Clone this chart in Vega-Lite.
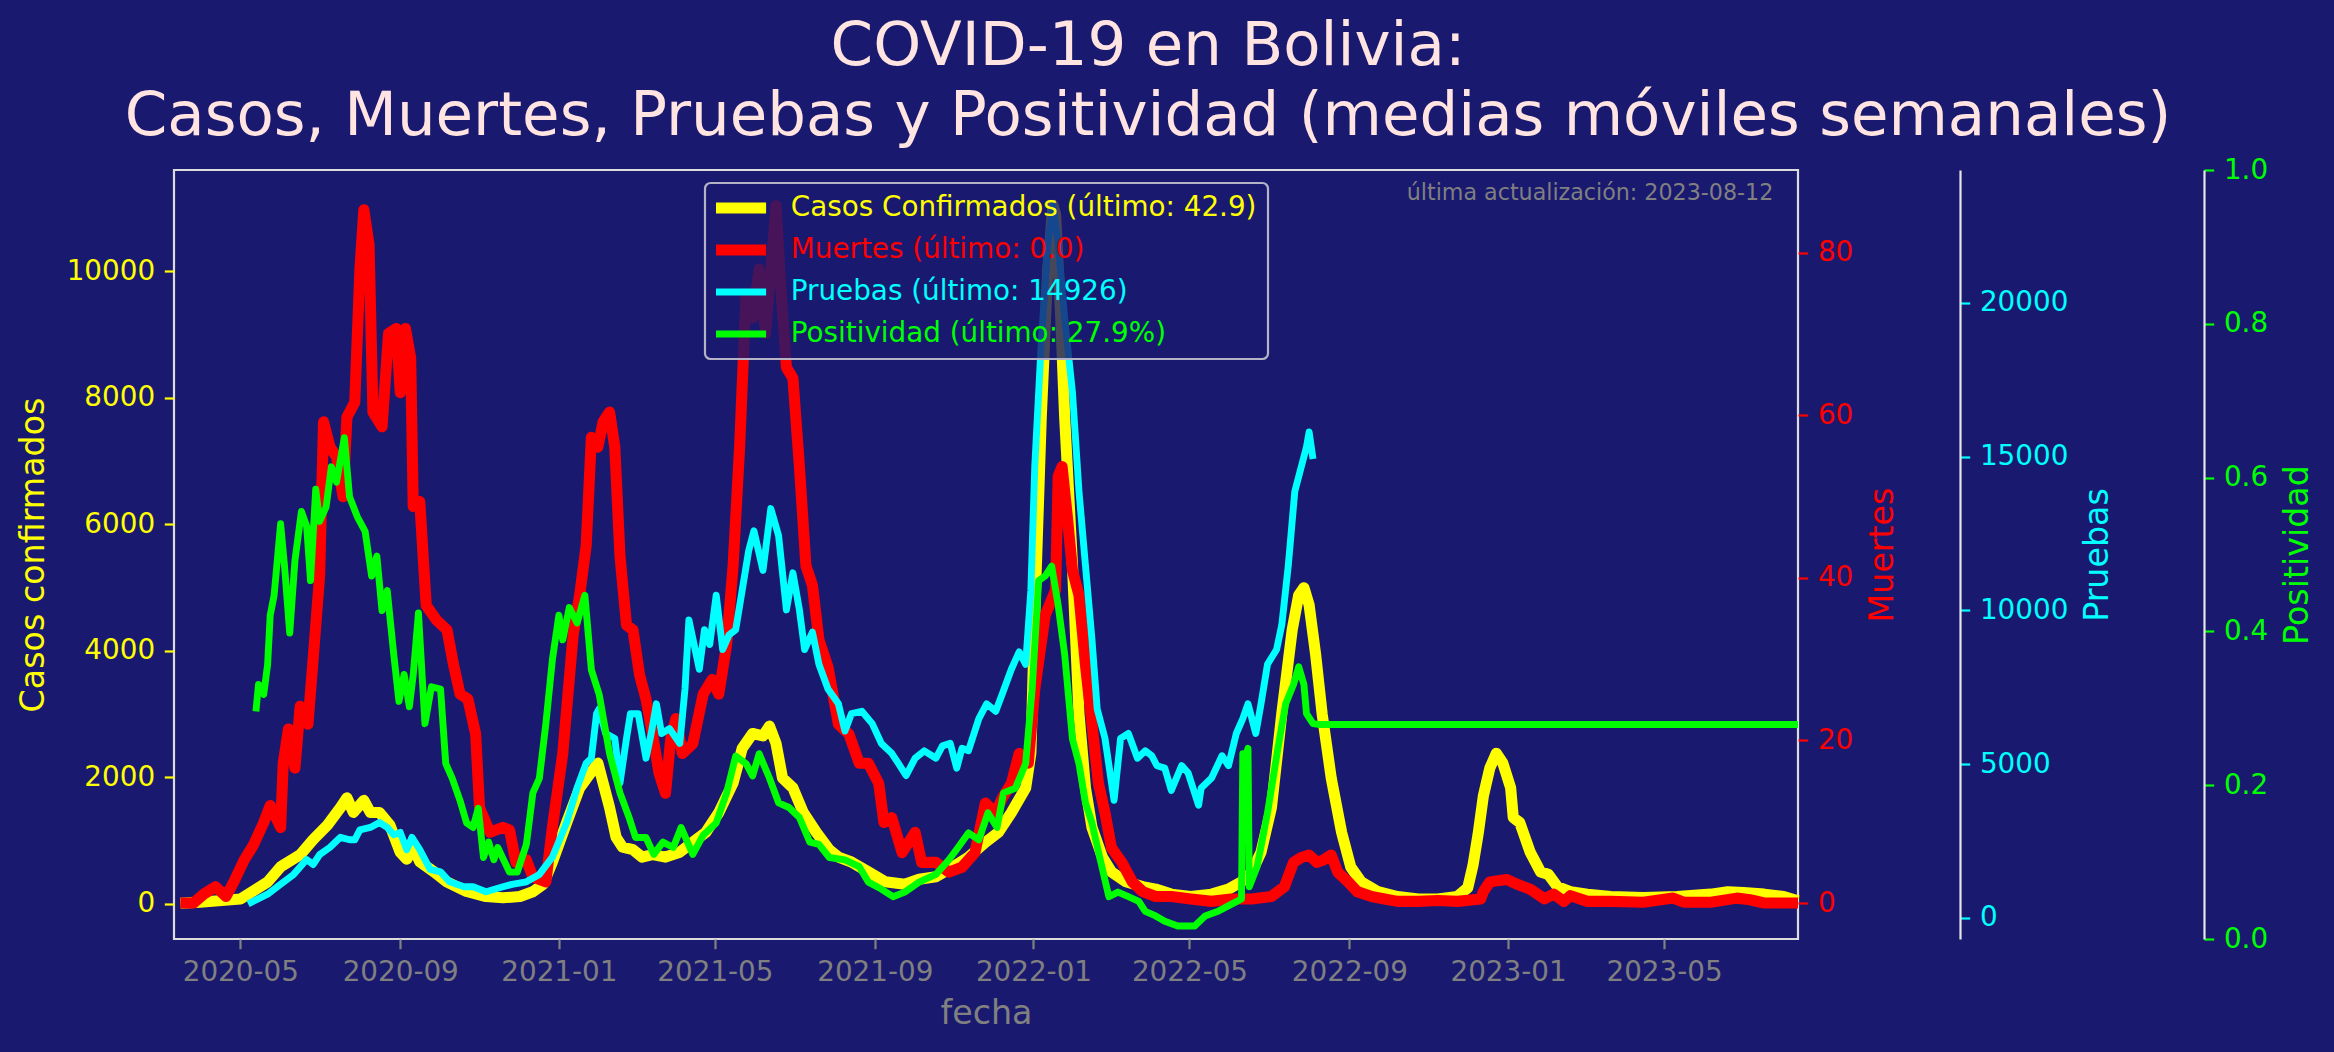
{
  "$schema": "https://vega.github.io/schema/vega-lite/v6.json",
  "width": 1624,
  "height": 769,
  "autosize": {"type": "none"},
  "padding": {"left": 174, "top": 170, "right": 536, "bottom": 113},
  "background": "#191970",
  "title": {
    "text": ["COVID-19 en Bolivia:", "Casos, Muertes, Pruebas y Positividad (medias móviles semanales)"],
    "font": "DejaVu Sans",
    "fontSize": 61,
    "fontWeight": "normal",
    "color": "#ffe4e1",
    "anchor": "middle",
    "frame": "group",
    "dx": 162,
    "lineHeight": 70,
    "offset": 8
  },
  "datasets": {
    "casos": [
      {"fecha": "2020-03-16", "v": 3}, {"fecha": "2020-03-31", "v": 20}, {"fecha": "2020-05-01", "v": 70}, {"fecha": "2020-05-22", "v": 340},
      {"fecha": "2020-06-01", "v": 580}, {"fecha": "2020-06-16", "v": 770}, {"fecha": "2020-06-26", "v": 1010}, {"fecha": "2020-07-07", "v": 1240},
      {"fecha": "2020-07-17", "v": 1515}, {"fecha": "2020-07-22", "v": 1670}, {"fecha": "2020-07-27", "v": 1440}, {"fecha": "2020-08-04", "v": 1630},
      {"fecha": "2020-08-09", "v": 1440}, {"fecha": "2020-08-16", "v": 1440}, {"fecha": "2020-08-24", "v": 1240}, {"fecha": "2020-09-01", "v": 810},
      {"fecha": "2020-09-06", "v": 700}, {"fecha": "2020-09-11", "v": 890}, {"fecha": "2020-09-16", "v": 660}, {"fecha": "2020-09-27", "v": 500},
      {"fecha": "2020-10-07", "v": 340}, {"fecha": "2020-10-22", "v": 190}, {"fecha": "2020-11-06", "v": 110}, {"fecha": "2020-11-19", "v": 90},
      {"fecha": "2020-12-02", "v": 110}, {"fecha": "2020-12-12", "v": 187}, {"fecha": "2020-12-20", "v": 305}, {"fecha": "2020-12-27", "v": 656},
      {"fecha": "2021-01-07", "v": 1281}, {"fecha": "2021-01-17", "v": 1828}, {"fecha": "2021-01-24", "v": 2024}, {"fecha": "2021-01-31", "v": 2219},
      {"fecha": "2021-02-04", "v": 1906}, {"fecha": "2021-02-09", "v": 1516}, {"fecha": "2021-02-14", "v": 1047}, {"fecha": "2021-02-19", "v": 890},
      {"fecha": "2021-02-27", "v": 851}, {"fecha": "2021-03-06", "v": 734}, {"fecha": "2021-03-14", "v": 773}, {"fecha": "2021-03-24", "v": 734},
      {"fecha": "2021-04-04", "v": 812}, {"fecha": "2021-04-14", "v": 968}, {"fecha": "2021-04-24", "v": 1125}, {"fecha": "2021-05-04", "v": 1437},
      {"fecha": "2021-05-15", "v": 1906}, {"fecha": "2021-05-22", "v": 2453}, {"fecha": "2021-05-30", "v": 2688}, {"fecha": "2021-06-07", "v": 2649},
      {"fecha": "2021-06-12", "v": 2805}, {"fecha": "2021-06-17", "v": 2532}, {"fecha": "2021-06-22", "v": 1984}, {"fecha": "2021-06-30", "v": 1828},
      {"fecha": "2021-07-08", "v": 1437}, {"fecha": "2021-07-18", "v": 1125}, {"fecha": "2021-07-28", "v": 850}, {"fecha": "2021-08-04", "v": 734},
      {"fecha": "2021-08-14", "v": 656}, {"fecha": "2021-08-27", "v": 500}, {"fecha": "2021-09-09", "v": 344}, {"fecha": "2021-09-24", "v": 305},
      {"fecha": "2021-10-05", "v": 383}, {"fecha": "2021-10-18", "v": 422}, {"fecha": "2021-10-31", "v": 578}, {"fecha": "2021-11-12", "v": 734},
      {"fecha": "2021-11-25", "v": 968}, {"fecha": "2021-12-05", "v": 1125}, {"fecha": "2021-12-15", "v": 1437}, {"fecha": "2021-12-26", "v": 1828},
      {"fecha": "2021-12-30", "v": 2375}, {"fecha": "2022-01-02", "v": 4563}, {"fecha": "2022-01-07", "v": 7690}, {"fecha": "2022-01-12", "v": 10034},
      {"fecha": "2022-01-16", "v": 11040}, {"fecha": "2022-01-18", "v": 10900}, {"fecha": "2022-01-22", "v": 9252}, {"fecha": "2022-01-25", "v": 7690},
      {"fecha": "2022-01-31", "v": 5345}, {"fecha": "2022-02-05", "v": 3001}, {"fecha": "2022-02-10", "v": 1828}, {"fecha": "2022-02-15", "v": 1203},
      {"fecha": "2022-02-23", "v": 734}, {"fecha": "2022-03-02", "v": 500}, {"fecha": "2022-03-13", "v": 344}, {"fecha": "2022-03-26", "v": 266},
      {"fecha": "2022-04-05", "v": 227}, {"fecha": "2022-04-17", "v": 148}, {"fecha": "2022-05-02", "v": 110}, {"fecha": "2022-05-18", "v": 148},
      {"fecha": "2022-05-31", "v": 227}, {"fecha": "2022-06-10", "v": 344}, {"fecha": "2022-06-18", "v": 500}, {"fecha": "2022-06-25", "v": 812},
      {"fecha": "2022-07-03", "v": 1515}, {"fecha": "2022-07-11", "v": 3001}, {"fecha": "2022-07-19", "v": 4329}, {"fecha": "2022-07-24", "v": 4876},
      {"fecha": "2022-07-28", "v": 4993}, {"fecha": "2022-08-01", "v": 4720}, {"fecha": "2022-08-06", "v": 3939}, {"fecha": "2022-08-11", "v": 3001},
      {"fecha": "2022-08-18", "v": 1985}, {"fecha": "2022-08-26", "v": 1125}, {"fecha": "2022-09-02", "v": 578}, {"fecha": "2022-09-10", "v": 344},
      {"fecha": "2022-09-23", "v": 187}, {"fecha": "2022-10-08", "v": 110}, {"fecha": "2022-10-24", "v": 70}, {"fecha": "2022-11-08", "v": 70},
      {"fecha": "2022-11-23", "v": 110}, {"fecha": "2022-12-01", "v": 250}, {"fecha": "2022-12-05", "v": 600}, {"fecha": "2022-12-09", "v": 1100},
      {"fecha": "2022-12-13", "v": 1700}, {"fecha": "2022-12-18", "v": 2141}, {"fecha": "2022-12-23", "v": 2375}, {"fecha": "2022-12-28", "v": 2219},
      {"fecha": "2023-01-03", "v": 1828}, {"fecha": "2023-01-05", "v": 1359}, {"fecha": "2023-01-10", "v": 1281}, {"fecha": "2023-01-18", "v": 812},
      {"fecha": "2023-01-26", "v": 500}, {"fecha": "2023-02-01", "v": 461}, {"fecha": "2023-02-08", "v": 266}, {"fecha": "2023-02-18", "v": 187},
      {"fecha": "2023-03-03", "v": 148}, {"fecha": "2023-03-21", "v": 110}, {"fecha": "2023-04-15", "v": 94}, {"fecha": "2023-05-11", "v": 110},
      {"fecha": "2023-06-06", "v": 148}, {"fecha": "2023-06-19", "v": 187}, {"fecha": "2023-07-01", "v": 172}, {"fecha": "2023-07-17", "v": 148},
      {"fecha": "2023-08-01", "v": 110}, {"fecha": "2023-08-12", "v": 43}
    ],
    "muertes": [
      {"fecha": "2020-03-16", "v": 0}, {"fecha": "2020-03-26", "v": 0}, {"fecha": "2020-04-03", "v": 1.1}, {"fecha": "2020-04-12", "v": 2},
      {"fecha": "2020-04-20", "v": 0.8}, {"fecha": "2020-04-26", "v": 2.6}, {"fecha": "2020-05-04", "v": 5.3}, {"fecha": "2020-05-11", "v": 7.1},
      {"fecha": "2020-05-19", "v": 9.9}, {"fecha": "2020-05-24", "v": 12}, {"fecha": "2020-06-01", "v": 9.3}, {"fecha": "2020-06-03", "v": 17.2},
      {"fecha": "2020-06-07", "v": 21.4}, {"fecha": "2020-06-12", "v": 16.6}, {"fecha": "2020-06-16", "v": 24.2}, {"fecha": "2020-06-22", "v": 22},
      {"fecha": "2020-06-26", "v": 30}, {"fecha": "2020-07-01", "v": 40.3}, {"fecha": "2020-07-04", "v": 59.2}, {"fecha": "2020-07-09", "v": 56.1},
      {"fecha": "2020-07-14", "v": 54.9}, {"fecha": "2020-07-19", "v": 50}, {"fecha": "2020-07-22", "v": 59.8}, {"fecha": "2020-07-28", "v": 61.6},
      {"fecha": "2020-08-01", "v": 78}, {"fecha": "2020-08-04", "v": 85.3}, {"fecha": "2020-08-08", "v": 81}, {"fecha": "2020-08-11", "v": 60.4},
      {"fecha": "2020-08-18", "v": 58.6}, {"fecha": "2020-08-23", "v": 70.1}, {"fecha": "2020-08-29", "v": 70.7}, {"fecha": "2020-09-01", "v": 62.8},
      {"fecha": "2020-09-05", "v": 70.7}, {"fecha": "2020-09-09", "v": 67.1}, {"fecha": "2020-09-11", "v": 48.8}, {"fecha": "2020-09-16", "v": 49.4},
      {"fecha": "2020-09-21", "v": 36.6}, {"fecha": "2020-09-29", "v": 34.8}, {"fecha": "2020-10-07", "v": 33.6}, {"fecha": "2020-10-12", "v": 29.3},
      {"fecha": "2020-10-17", "v": 25.7}, {"fecha": "2020-10-23", "v": 25.1}, {"fecha": "2020-10-29", "v": 20.8}, {"fecha": "2020-11-01", "v": 11.7},
      {"fecha": "2020-11-09", "v": 8.7}, {"fecha": "2020-11-19", "v": 9.3}, {"fecha": "2020-11-24", "v": 9.0}, {"fecha": "2020-11-29", "v": 5.0},
      {"fecha": "2020-12-07", "v": 5.3}, {"fecha": "2020-12-12", "v": 3.2}, {"fecha": "2020-12-22", "v": 2.6}, {"fecha": "2020-12-27", "v": 9.3},
      {"fecha": "2021-01-04", "v": 18.4}, {"fecha": "2021-01-12", "v": 33}, {"fecha": "2021-01-17", "v": 37.9}, {"fecha": "2021-01-22", "v": 44},
      {"fecha": "2021-01-26", "v": 57.3}, {"fecha": "2021-01-31", "v": 56.1}, {"fecha": "2021-02-04", "v": 59.2}, {"fecha": "2021-02-09", "v": 60.4},
      {"fecha": "2021-02-13", "v": 56.1}, {"fecha": "2021-02-17", "v": 42.7}, {"fecha": "2021-02-22", "v": 34.2}, {"fecha": "2021-02-27", "v": 33.6},
      {"fecha": "2021-03-04", "v": 28.1}, {"fecha": "2021-03-09", "v": 25.1}, {"fecha": "2021-03-14", "v": 20.8}, {"fecha": "2021-03-19", "v": 16},
      {"fecha": "2021-03-24", "v": 13.5}, {"fecha": "2021-03-28", "v": 20.2}, {"fecha": "2021-04-01", "v": 22.7}, {"fecha": "2021-04-06", "v": 18.4},
      {"fecha": "2021-04-14", "v": 19.6}, {"fecha": "2021-04-22", "v": 25.7}, {"fecha": "2021-04-29", "v": 27.5}, {"fecha": "2021-05-04", "v": 25.7},
      {"fecha": "2021-05-10", "v": 31.8}, {"fecha": "2021-05-15", "v": 41.5}, {"fecha": "2021-05-20", "v": 56.1}, {"fecha": "2021-05-25", "v": 75},
      {"fecha": "2021-05-30", "v": 72}, {"fecha": "2021-06-04", "v": 78}, {"fecha": "2021-06-09", "v": 70.1}, {"fecha": "2021-06-13", "v": 78},
      {"fecha": "2021-06-17", "v": 85.8}, {"fecha": "2021-06-21", "v": 75}, {"fecha": "2021-06-25", "v": 65.9}, {"fecha": "2021-06-30", "v": 64.6},
      {"fecha": "2021-07-05", "v": 53.7}, {"fecha": "2021-07-10", "v": 41.5}, {"fecha": "2021-07-15", "v": 39.1}, {"fecha": "2021-07-20", "v": 32.4},
      {"fecha": "2021-07-27", "v": 29}, {"fecha": "2021-08-04", "v": 22}, {"fecha": "2021-08-12", "v": 20.8}, {"fecha": "2021-08-20", "v": 17.2},
      {"fecha": "2021-08-27", "v": 17.2}, {"fecha": "2021-09-04", "v": 14.7}, {"fecha": "2021-09-08", "v": 9.9}, {"fecha": "2021-09-14", "v": 10.5},
      {"fecha": "2021-09-22", "v": 6.2}, {"fecha": "2021-10-02", "v": 8.7}, {"fecha": "2021-10-07", "v": 5.0}, {"fecha": "2021-10-18", "v": 5.0},
      {"fecha": "2021-10-28", "v": 3.8}, {"fecha": "2021-11-07", "v": 4.4}, {"fecha": "2021-11-17", "v": 6.2}, {"fecha": "2021-11-25", "v": 12.3},
      {"fecha": "2021-12-03", "v": 11.1}, {"fecha": "2021-12-08", "v": 12.9}, {"fecha": "2021-12-15", "v": 14.7}, {"fecha": "2021-12-21", "v": 18.4},
      {"fecha": "2021-12-28", "v": 17.2}, {"fecha": "2022-01-02", "v": 26.3}, {"fecha": "2022-01-10", "v": 35.4}, {"fecha": "2022-01-18", "v": 38.5},
      {"fecha": "2022-01-20", "v": 52.5}, {"fecha": "2022-01-23", "v": 53.7}, {"fecha": "2022-01-27", "v": 47.6}, {"fecha": "2022-01-31", "v": 40.9},
      {"fecha": "2022-02-05", "v": 37.9}, {"fecha": "2022-02-10", "v": 29.3}, {"fecha": "2022-02-15", "v": 22}, {"fecha": "2022-02-20", "v": 14.7},
      {"fecha": "2022-02-25", "v": 11.1}, {"fecha": "2022-03-02", "v": 6.8}, {"fecha": "2022-03-10", "v": 5}, {"fecha": "2022-03-18", "v": 2.6},
      {"fecha": "2022-03-26", "v": 1.4}, {"fecha": "2022-04-05", "v": 0.8}, {"fecha": "2022-04-17", "v": 0.8}, {"fecha": "2022-05-02", "v": 0.5},
      {"fecha": "2022-05-18", "v": 0.2}, {"fecha": "2022-06-02", "v": 0.5}, {"fecha": "2022-06-18", "v": 0.5}, {"fecha": "2022-07-03", "v": 0.8},
      {"fecha": "2022-07-13", "v": 2}, {"fecha": "2022-07-20", "v": 5}, {"fecha": "2022-07-26", "v": 5.6}, {"fecha": "2022-08-01", "v": 5.9},
      {"fecha": "2022-08-07", "v": 5}, {"fecha": "2022-08-12", "v": 5.3}, {"fecha": "2022-08-18", "v": 5.9}, {"fecha": "2022-08-23", "v": 3.8},
      {"fecha": "2022-08-31", "v": 2.6}, {"fecha": "2022-09-07", "v": 1.4}, {"fecha": "2022-09-18", "v": 0.8}, {"fecha": "2022-09-28", "v": 0.5},
      {"fecha": "2022-10-08", "v": 0.2}, {"fecha": "2022-10-24", "v": 0.2}, {"fecha": "2022-11-08", "v": 0.3}, {"fecha": "2022-11-23", "v": 0.2},
      {"fecha": "2022-12-11", "v": 0.5}, {"fecha": "2022-12-13", "v": 1.4}, {"fecha": "2022-12-18", "v": 2.6}, {"fecha": "2022-12-31", "v": 2.9},
      {"fecha": "2023-01-08", "v": 2.3}, {"fecha": "2023-01-18", "v": 1.7}, {"fecha": "2023-01-29", "v": 0.5}, {"fecha": "2023-02-05", "v": 1.1},
      {"fecha": "2023-02-13", "v": 0.2}, {"fecha": "2023-02-18", "v": 0.9}, {"fecha": "2023-03-03", "v": 0.2}, {"fecha": "2023-03-21", "v": 0.2},
      {"fecha": "2023-04-15", "v": 0.1}, {"fecha": "2023-05-08", "v": 0.6}, {"fecha": "2023-05-16", "v": 0.1}, {"fecha": "2023-06-06", "v": 0.1},
      {"fecha": "2023-06-26", "v": 0.6}, {"fecha": "2023-07-06", "v": 0.4}, {"fecha": "2023-07-17", "v": 0}, {"fecha": "2023-08-12", "v": 0}
    ],
    "pruebas": [
      {"fecha": "2020-05-07", "v": 460}, {"fecha": "2020-05-22", "v": 775}, {"fecha": "2020-06-01", "v": 1096}, {"fecha": "2020-06-11", "v": 1418},
      {"fecha": "2020-06-21", "v": 1900}, {"fecha": "2020-06-26", "v": 1740}, {"fecha": "2020-07-01", "v": 2061}, {"fecha": "2020-07-09", "v": 2302},
      {"fecha": "2020-07-17", "v": 2624}, {"fecha": "2020-07-24", "v": 2544}, {"fecha": "2020-07-28", "v": 2544}, {"fecha": "2020-08-01", "v": 2865},
      {"fecha": "2020-08-09", "v": 2945}, {"fecha": "2020-08-16", "v": 3106}, {"fecha": "2020-08-22", "v": 2945}, {"fecha": "2020-08-27", "v": 2704},
      {"fecha": "2020-09-01", "v": 2785}, {"fecha": "2020-09-06", "v": 2222}, {"fecha": "2020-09-10", "v": 2624}, {"fecha": "2020-09-16", "v": 2222},
      {"fecha": "2020-09-24", "v": 1579}, {"fecha": "2020-10-02", "v": 1498}, {"fecha": "2020-10-09", "v": 1177}, {"fecha": "2020-10-20", "v": 1016},
      {"fecha": "2020-10-27", "v": 1016}, {"fecha": "2020-11-06", "v": 855}, {"fecha": "2020-11-19", "v": 1016}, {"fecha": "2020-11-26", "v": 1096},
      {"fecha": "2020-12-07", "v": 1177}, {"fecha": "2020-12-17", "v": 1418}, {"fecha": "2020-12-27", "v": 1980}, {"fecha": "2021-01-07", "v": 3106},
      {"fecha": "2021-01-15", "v": 4231}, {"fecha": "2021-01-22", "v": 5035}, {"fecha": "2021-01-26", "v": 5196}, {"fecha": "2021-01-30", "v": 6643},
      {"fecha": "2021-02-01", "v": 6803}, {"fecha": "2021-02-06", "v": 6000}, {"fecha": "2021-02-13", "v": 5839}, {"fecha": "2021-02-17", "v": 4392},
      {"fecha": "2021-02-22", "v": 5839}, {"fecha": "2021-02-25", "v": 6643}, {"fecha": "2021-03-03", "v": 6643}, {"fecha": "2021-03-09", "v": 5196},
      {"fecha": "2021-03-13", "v": 6000}, {"fecha": "2021-03-17", "v": 6964}, {"fecha": "2021-03-21", "v": 6000}, {"fecha": "2021-03-27", "v": 6160},
      {"fecha": "2021-04-04", "v": 5678}, {"fecha": "2021-04-08", "v": 7446}, {"fecha": "2021-04-11", "v": 9696}, {"fecha": "2021-04-15", "v": 8893},
      {"fecha": "2021-04-19", "v": 8089}, {"fecha": "2021-04-23", "v": 9375}, {"fecha": "2021-04-27", "v": 8893}, {"fecha": "2021-05-02", "v": 10500},
      {"fecha": "2021-05-07", "v": 8732}, {"fecha": "2021-05-12", "v": 9214}, {"fecha": "2021-05-17", "v": 9375}, {"fecha": "2021-05-22", "v": 10661},
      {"fecha": "2021-05-27", "v": 11947}, {"fecha": "2021-05-31", "v": 12590}, {"fecha": "2021-06-07", "v": 11304}, {"fecha": "2021-06-13", "v": 13314},
      {"fecha": "2021-06-19", "v": 12429}, {"fecha": "2021-06-25", "v": 10018}, {"fecha": "2021-06-30", "v": 11224}, {"fecha": "2021-07-05", "v": 10018},
      {"fecha": "2021-07-09", "v": 8732}, {"fecha": "2021-07-15", "v": 9295}, {"fecha": "2021-07-20", "v": 8250}, {"fecha": "2021-07-27", "v": 7446},
      {"fecha": "2021-08-04", "v": 6964}, {"fecha": "2021-08-09", "v": 6080}, {"fecha": "2021-08-14", "v": 6643}, {"fecha": "2021-08-22", "v": 6723},
      {"fecha": "2021-08-30", "v": 6321}, {"fecha": "2021-09-06", "v": 5678}, {"fecha": "2021-09-14", "v": 5357}, {"fecha": "2021-09-19", "v": 5035},
      {"fecha": "2021-09-25", "v": 4633}, {"fecha": "2021-10-02", "v": 5196}, {"fecha": "2021-10-09", "v": 5437}, {"fecha": "2021-10-18", "v": 5196},
      {"fecha": "2021-10-23", "v": 5598}, {"fecha": "2021-10-29", "v": 5678}, {"fecha": "2021-11-03", "v": 4874}, {"fecha": "2021-11-07", "v": 5518},
      {"fecha": "2021-11-12", "v": 5437}, {"fecha": "2021-11-20", "v": 6482}, {"fecha": "2021-11-26", "v": 6964}, {"fecha": "2021-12-03", "v": 6723},
      {"fecha": "2021-12-08", "v": 7285}, {"fecha": "2021-12-15", "v": 8089}, {"fecha": "2021-12-21", "v": 8652}, {"fecha": "2021-12-26", "v": 8250},
      {"fecha": "2021-12-30", "v": 10661}, {"fecha": "2022-01-02", "v": 14680}, {"fecha": "2022-01-07", "v": 18699}, {"fecha": "2022-01-12", "v": 21914},
      {"fecha": "2022-01-16", "v": 23190}, {"fecha": "2022-01-20", "v": 21914}, {"fecha": "2022-01-25", "v": 19502}, {"fecha": "2022-01-31", "v": 17091},
      {"fecha": "2022-02-05", "v": 13876}, {"fecha": "2022-02-10", "v": 11465}, {"fecha": "2022-02-15", "v": 9054}, {"fecha": "2022-02-19", "v": 6803},
      {"fecha": "2022-02-25", "v": 5839}, {"fecha": "2022-03-04", "v": 3829}, {"fecha": "2022-03-09", "v": 5839}, {"fecha": "2022-03-15", "v": 6000},
      {"fecha": "2022-03-22", "v": 5196}, {"fecha": "2022-03-28", "v": 5437}, {"fecha": "2022-04-02", "v": 5277}, {"fecha": "2022-04-06", "v": 4950},
      {"fecha": "2022-04-12", "v": 4874}, {"fecha": "2022-04-17", "v": 4151}, {"fecha": "2022-04-25", "v": 4955}, {"fecha": "2022-04-30", "v": 4713},
      {"fecha": "2022-05-08", "v": 3668}, {"fecha": "2022-05-10", "v": 4231}, {"fecha": "2022-05-18", "v": 4553}, {"fecha": "2022-05-26", "v": 5277},
      {"fecha": "2022-05-31", "v": 4955}, {"fecha": "2022-06-06", "v": 6000}, {"fecha": "2022-06-11", "v": 6482}, {"fecha": "2022-06-15", "v": 6964},
      {"fecha": "2022-06-19", "v": 6321}, {"fecha": "2022-06-21", "v": 6000}, {"fecha": "2022-06-25", "v": 6964}, {"fecha": "2022-06-30", "v": 8250},
      {"fecha": "2022-07-07", "v": 8732}, {"fecha": "2022-07-11", "v": 9536}, {"fecha": "2022-07-16", "v": 11465}, {"fecha": "2022-07-21", "v": 13876},
      {"fecha": "2022-07-26", "v": 14680}, {"fecha": "2022-07-30", "v": 15323}, {"fecha": "2022-08-01", "v": 15805}, {"fecha": "2022-08-04", "v": 14926}
    ],
    "positividad": [
      {"fecha": "2020-05-13", "v": 0.296}, {"fecha": "2020-05-15", "v": 0.331}, {"fecha": "2020-05-19", "v": 0.318}, {"fecha": "2020-05-22", "v": 0.357},
      {"fecha": "2020-05-24", "v": 0.421}, {"fecha": "2020-05-27", "v": 0.447}, {"fecha": "2020-06-01", "v": 0.54}, {"fecha": "2020-06-04", "v": 0.485},
      {"fecha": "2020-06-08", "v": 0.398}, {"fecha": "2020-06-12", "v": 0.492}, {"fecha": "2020-06-17", "v": 0.556}, {"fecha": "2020-06-21", "v": 0.537},
      {"fecha": "2020-06-24", "v": 0.466}, {"fecha": "2020-06-28", "v": 0.585}, {"fecha": "2020-07-01", "v": 0.543}, {"fecha": "2020-07-06", "v": 0.562},
      {"fecha": "2020-07-10", "v": 0.614}, {"fecha": "2020-07-14", "v": 0.594}, {"fecha": "2020-07-20", "v": 0.652}, {"fecha": "2020-07-24", "v": 0.575},
      {"fecha": "2020-07-30", "v": 0.549}, {"fecha": "2020-08-05", "v": 0.53}, {"fecha": "2020-08-10", "v": 0.472}, {"fecha": "2020-08-14", "v": 0.498},
      {"fecha": "2020-08-18", "v": 0.427}, {"fecha": "2020-08-22", "v": 0.453}, {"fecha": "2020-08-27", "v": 0.37}, {"fecha": "2020-08-31", "v": 0.309},
      {"fecha": "2020-09-04", "v": 0.344}, {"fecha": "2020-09-08", "v": 0.302}, {"fecha": "2020-09-11", "v": 0.344}, {"fecha": "2020-09-15", "v": 0.424},
      {"fecha": "2020-09-20", "v": 0.28}, {"fecha": "2020-09-25", "v": 0.328}, {"fecha": "2020-10-02", "v": 0.325}, {"fecha": "2020-10-06", "v": 0.228},
      {"fecha": "2020-10-11", "v": 0.209}, {"fecha": "2020-10-17", "v": 0.18}, {"fecha": "2020-10-22", "v": 0.151}, {"fecha": "2020-10-27", "v": 0.145},
      {"fecha": "2020-10-31", "v": 0.17}, {"fecha": "2020-11-04", "v": 0.106}, {"fecha": "2020-11-08", "v": 0.126}, {"fecha": "2020-11-12", "v": 0.103},
      {"fecha": "2020-11-15", "v": 0.119}, {"fecha": "2020-11-24", "v": 0.087}, {"fecha": "2020-11-30", "v": 0.087}, {"fecha": "2020-12-07", "v": 0.123},
      {"fecha": "2020-12-12", "v": 0.19}, {"fecha": "2020-12-17", "v": 0.209}, {"fecha": "2020-12-22", "v": 0.28}, {"fecha": "2020-12-27", "v": 0.363},
      {"fecha": "2021-01-01", "v": 0.421}, {"fecha": "2021-01-04", "v": 0.389}, {"fecha": "2021-01-09", "v": 0.431}, {"fecha": "2021-01-15", "v": 0.411},
      {"fecha": "2021-01-21", "v": 0.447}, {"fecha": "2021-01-26", "v": 0.35}, {"fecha": "2021-02-01", "v": 0.318}, {"fecha": "2021-02-09", "v": 0.241},
      {"fecha": "2021-02-17", "v": 0.19}, {"fecha": "2021-02-24", "v": 0.158}, {"fecha": "2021-03-01", "v": 0.132}, {"fecha": "2021-03-09", "v": 0.132},
      {"fecha": "2021-03-15", "v": 0.11}, {"fecha": "2021-03-22", "v": 0.126}, {"fecha": "2021-03-30", "v": 0.119}, {"fecha": "2021-04-05", "v": 0.145},
      {"fecha": "2021-04-14", "v": 0.11}, {"fecha": "2021-04-22", "v": 0.135}, {"fecha": "2021-05-02", "v": 0.151}, {"fecha": "2021-05-10", "v": 0.19},
      {"fecha": "2021-05-17", "v": 0.238}, {"fecha": "2021-05-25", "v": 0.228}, {"fecha": "2021-05-30", "v": 0.212}, {"fecha": "2021-06-04", "v": 0.241},
      {"fecha": "2021-06-12", "v": 0.209}, {"fecha": "2021-06-19", "v": 0.177}, {"fecha": "2021-06-27", "v": 0.171}, {"fecha": "2021-07-05", "v": 0.158},
      {"fecha": "2021-07-13", "v": 0.126}, {"fecha": "2021-07-20", "v": 0.123}, {"fecha": "2021-07-28", "v": 0.106}, {"fecha": "2021-08-09", "v": 0.103},
      {"fecha": "2021-08-20", "v": 0.094}, {"fecha": "2021-08-27", "v": 0.074}, {"fecha": "2021-09-06", "v": 0.065}, {"fecha": "2021-09-15", "v": 0.055},
      {"fecha": "2021-09-24", "v": 0.061}, {"fecha": "2021-10-05", "v": 0.074}, {"fecha": "2021-10-18", "v": 0.084}, {"fecha": "2021-10-28", "v": 0.103},
      {"fecha": "2021-11-04", "v": 0.119}, {"fecha": "2021-11-12", "v": 0.138}, {"fecha": "2021-11-20", "v": 0.129}, {"fecha": "2021-11-27", "v": 0.164},
      {"fecha": "2021-12-04", "v": 0.145}, {"fecha": "2021-12-09", "v": 0.19}, {"fecha": "2021-12-18", "v": 0.196}, {"fecha": "2021-12-26", "v": 0.228},
      {"fecha": "2021-12-31", "v": 0.325}, {"fecha": "2022-01-05", "v": 0.466}, {"fecha": "2022-01-10", "v": 0.472}, {"fecha": "2022-01-15", "v": 0.485},
      {"fecha": "2022-01-20", "v": 0.434}, {"fecha": "2022-01-25", "v": 0.37}, {"fecha": "2022-01-31", "v": 0.26}, {"fecha": "2022-02-05", "v": 0.228},
      {"fecha": "2022-02-10", "v": 0.177}, {"fecha": "2022-02-15", "v": 0.151}, {"fecha": "2022-02-20", "v": 0.113}, {"fecha": "2022-02-28", "v": 0.055},
      {"fecha": "2022-03-07", "v": 0.061}, {"fecha": "2022-03-15", "v": 0.055}, {"fecha": "2022-03-23", "v": 0.049}, {"fecha": "2022-03-28", "v": 0.036},
      {"fecha": "2022-04-05", "v": 0.03}, {"fecha": "2022-04-12", "v": 0.023}, {"fecha": "2022-04-22", "v": 0.017}, {"fecha": "2022-05-05", "v": 0.017},
      {"fecha": "2022-05-13", "v": 0.03}, {"fecha": "2022-05-23", "v": 0.036}, {"fecha": "2022-06-02", "v": 0.045}, {"fecha": "2022-06-10", "v": 0.052},
      {"fecha": "2022-06-11", "v": 0.241}, {"fecha": "2022-06-14", "v": 0.241}, {"fecha": "2022-06-15", "v": 0.248}, {"fecha": "2022-06-16", "v": 0.068},
      {"fecha": "2022-06-22", "v": 0.094}, {"fecha": "2022-06-30", "v": 0.164}, {"fecha": "2022-07-08", "v": 0.248}, {"fecha": "2022-07-14", "v": 0.306},
      {"fecha": "2022-07-20", "v": 0.331}, {"fecha": "2022-07-24", "v": 0.354}, {"fecha": "2022-07-28", "v": 0.331}, {"fecha": "2022-07-30", "v": 0.293},
      {"fecha": "2022-08-04", "v": 0.28}, {"fecha": "2022-08-08", "v": 0.279}, {"fecha": "2023-08-12", "v": 0.279}
    ],
    "nota": [
      {"fecha": "2023-07-24", "t": "última actualización: 2023-08-12"}
    ]
  },
  "encoding": {
    "x": {
      "field": "fecha",
      "type": "temporal",
      "title": "fecha",
      "scale": {"type": "utc", "domain": [{"year": 2020, "month": 3, "date": 11, "utc": true}, {"year": 2023, "month": 8, "date": 12, "utc": true}]},
      "axis": {
        "values": [
          {"year": 2020, "month": 5, "date": 1, "utc": true}, {"year": 2020, "month": 9, "date": 1, "utc": true},
          {"year": 2021, "month": 1, "date": 1, "utc": true}, {"year": 2021, "month": 5, "date": 1, "utc": true},
          {"year": 2021, "month": 9, "date": 1, "utc": true}, {"year": 2022, "month": 1, "date": 1, "utc": true},
          {"year": 2022, "month": 5, "date": 1, "utc": true}, {"year": 2022, "month": 9, "date": 1, "utc": true},
          {"year": 2023, "month": 1, "date": 1, "utc": true}, {"year": 2023, "month": 5, "date": 1, "utc": true}
        ],
        "labelExpr": "utcFormat(datum.value, '%Y-%m')",
        "labelColor": "#808080",
        "tickColor": "#808080",
        "titleColor": "#808080",
        "domain": false,
        "titlePadding": 11
      }
    }
  },
  "layer": [
    {
      "data": {"name": "casos"},
      "mark": {"type": "line", "strokeWidth": 11.1, "strokeJoin": "round"},
      "encoding": {
        "y": {
          "field": "v", "type": "quantitative",
          "scale": {"domain": [-561, 11597], "nice": false, "zero": false},
          "axis": {"orient": "left", "title": "Casos confirmados", "values": [0, 2000, 4000, 6000, 8000, 10000], "format": "d",
                   "labelColor": "#ffff00", "tickColor": "#ffff00", "titleColor": "#ffff00", "domain": false, "titlePadding": 16}
        },
        "color": {
          "datum": "Casos Confirmados (último: 42.9)", "type": "nominal",
          "scale": {
            "domain": ["Casos Confirmados (último: 42.9)", "Muertes (último: 0.0)", "Pruebas (último: 14926)", "Positividad (último: 27.9%)"],
            "range": ["#ffff00", "#ff0000", "#00ffff", "#00ff00"]
          },
          "legend": {
            "title": null,
            "orient": "none",
            "legendX": 531,
            "legendY": 13,
            "symbolType": "stroke",
            "symbolSize": 5240,
            "symbolStrokeWidth": 11,
            "clipHeight": 28,
            "rowPadding": 14,
            "labelOffset": 47,
            "labelFont": "DejaVu Sans",
            "labelFontSize": 27.8,
            "labelLimit": 2000,
            "padding": 11,
            "fillColor": "rgba(25,25,112,0.8)",
            "strokeColor": "#b4b4c6",
            "cornerRadius": 5.6,
            "encode": {
              "legend": {"update": {"strokeWidth": {"value": 2.2}}},
              "labels": {"update": {"fill": {"signal": "['#ffff00','#ff0000','#00ffff','#00ff00'][datum.index]"}}},
              "symbols": {"update": {"strokeWidth": {"signal": "datum.index < 2 ? 11.1 : 6.9"}}}
            }
          }
        }
      }
    },
    {
      "data": {"name": "muertes"},
      "mark": {"type": "line", "strokeWidth": 11.1, "strokeJoin": "round"},
      "encoding": {
        "y": {
          "field": "v", "type": "quantitative",
          "scale": {"domain": [-4.43, 90.2], "nice": false, "zero": false},
          "axis": {"orient": "right", "offset": 0, "title": "Muertes", "titleAngle": 270, "values": [0, 20, 40, 60, 80], "format": "d",
                   "labelColor": "#ff0000", "tickColor": "#ff0000", "titleColor": "#ff0000", "domain": false, "titlePadding": 47}
        },
        "color": {"datum": "Muertes (último: 0.0)", "type": "nominal"}
      }
    },
    {
      "data": {"name": "pruebas"},
      "mark": {"type": "line", "strokeWidth": 6.9, "strokeJoin": "round"},
      "encoding": {
        "y": {
          "field": "v", "type": "quantitative",
          "scale": {"domain": [-683, 24325], "nice": false, "zero": false},
          "axis": {"orient": "right", "offset": 162, "title": "Pruebas", "titleAngle": 270, "values": [0, 5000, 10000, 15000, 20000], "format": "d",
                   "labelColor": "#00ffff", "tickColor": "#00ffff", "titleColor": "#00ffff", "domain": true, "domainColor": "#e6e6e6", "titlePadding": 47}
        },
        "color": {"datum": "Pruebas (último: 14926)", "type": "nominal"}
      }
    },
    {
      "data": {"name": "positividad"},
      "mark": {"type": "line", "strokeWidth": 6.9, "strokeJoin": "round"},
      "encoding": {
        "y": {
          "field": "v", "type": "quantitative",
          "scale": {"domain": [0, 1], "nice": false, "zero": false},
          "axis": {"orient": "right", "offset": 406, "title": "Positividad", "titleAngle": 270, "values": [0, 0.2, 0.4, 0.6, 0.8, 1.0], "format": ".1f",
                   "labelColor": "#00ff00", "tickColor": "#00ff00", "titleColor": "#00ff00", "domain": true, "domainColor": "#e6e6e6", "titlePadding": 47}
        },
        "color": {"datum": "Positividad (último: 27.9%)", "type": "nominal"}
      }
    },
    {
      "data": {"name": "nota"},
      "mark": {"type": "text", "align": "right", "baseline": "middle", "fontSize": 22.2, "font": "DejaVu Sans", "fill": "#808080", "opacity": 1},
      "encoding": {
        "y": {"datum": 0.97, "type": "quantitative", "scale": {"domain": [0, 1], "nice": false, "zero": false}, "axis": null},
        "text": {"field": "t", "type": "nominal"}
      }
    }
  ],
  "resolve": {"scale": {"y": "independent"}},
  "config": {
    "view": {"stroke": "#dcdcdc", "strokeWidth": 2.2},
    "axis": {
      "labelFont": "DejaVu Sans", "titleFont": "DejaVu Sans", "labelFontSize": 27.8, "titleFontSize": 33.3, "titleFontWeight": "normal",
      "tickSize": 9.7, "tickWidth": 2.2, "labelPadding": 9.7, "grid": false, "domainColor": "#dcdcdc", "domainWidth": 2.2
    }
  }
}
